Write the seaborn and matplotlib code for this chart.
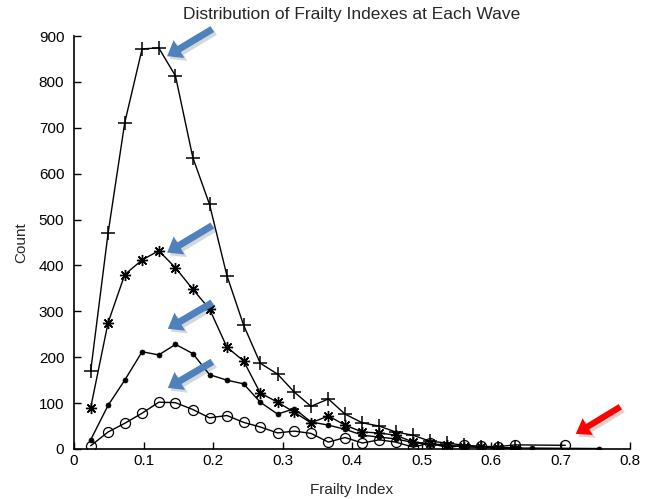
import numpy as np
import pandas as pd
import matplotlib
matplotlib.use("Agg")
import matplotlib.pyplot as plt
import matplotlib.patheffects as pe
import seaborn as sns

# Frailty index bin centres
frailty_index = [0.024, 0.049, 0.073, 0.098, 0.122, 0.146, 0.171, 0.195, 0.220, 0.244,
                 0.268, 0.293, 0.317, 0.341, 0.366, 0.390, 0.415, 0.439, 0.463, 0.488,
                 0.512, 0.537, 0.561, 0.585, 0.610, 0.634, 0.659, 0.683, 0.707, 0.732,
                 0.756]

# Counts per wave (None = empty bin, not plotted)
wave1_counts = [170, 470, 711, 872, 874, 813, 635, 533, 378, 270,
                187, 163, 124, 93, 109, 76, 57, 50, 37, 30,
                17, 13, 8, 5, 3, 2, None, None, None, None, None]
wave2_counts = [90, 275, 380, 412, 432, 395, 348, 305, 222, 192,
                122, 102, 80, 57, 72, 52, 37, 35, 30, 15,
                12, 8, 5, 4, 2, 1, None, None, None, None, None]
wave3_counts = [20, 95, 150, 212, 205, 228, 208, 162, 150, 142,
                102, 76, 88, 59, 52, 43, 30, 26, 22, 14,
                10, 7, 5, 4, 3, 2, 2, None, None, None, 1]
wave4_counts = [7, 37, 56, 78, 102, 101, 86, 68, 73, 58,
                48, 35, 39, 34, 15, 25, 13, 20, 15, 4,
                13, 3, 8, 6, 5, 9, None, None, 8, None, None]

x_ticks = [0, 0.1, 0.2, 0.3, 0.4, 0.5, 0.6, 0.7, 0.8]
x_tick_labels = ["0", "0.1", "0.2", "0.3", "0.4", "0.5", "0.6", "0.7", "0.8"]
y_ticks = [0, 100, 200, 300, 400, 500, 600, 700, 800, 900]

# Callout arrows: (tip, tail) in data coordinates
blue_arrows = [((0.134, 856), (0.199, 915)),
               ((0.134, 428), (0.199, 487)),
               ((0.135, 262), (0.199, 319)),
               ((0.135, 133), (0.199, 190))]
red_arrow = ((0.722, 33), (0.786, 92))

sns.set_style("ticks")
plt.rcParams["font.family"] = ["Liberation Sans", "DejaVu Sans"]

fig = plt.figure(figsize=(6.47, 4.99), dpi=100)
ax = fig.add_axes([74 / 647, 50 / 499, 556 / 647, 413 / 499])

series = [
    (wave1_counts, dict(marker="+", markersize=9.5, markeredgewidth=1.1)),
    (wave2_counts, dict(marker=(8, 2, 0), markersize=8, markeredgewidth=1.0)),
    (wave3_counts, dict(marker="o", markersize=3.6, markeredgewidth=0.5,
                        markerfacecolor="black")),
    (wave4_counts, dict(marker="o", markersize=7.2, markeredgewidth=0.9,
                        markerfacecolor="none")),
]

for counts, style in series:
    df = pd.DataFrame({"fi": frailty_index, "count": counts}).dropna()
    sns.lineplot(data=df, x="fi", y="count", ax=ax, color="black",
                 linewidth=1.0, markeredgecolor="black", **style)

ax.set_xlim(0, 0.8)
ax.set_ylim(0, 900)
ax.set_xticks(x_ticks)
ax.set_xticklabels(x_tick_labels)
ax.set_yticks(y_ticks)
ax.tick_params(direction="in", length=5, width=1, labelsize=11, colors="black")
ax.tick_params(axis="y", pad=7)
for side in ("top", "right"):
    ax.spines[side].set_visible(False)
for side in ("left", "bottom"):
    ax.spines[side].set_linewidth(1.2)
    ax.spines[side].set_color("black")

ax.set_xlabel("Frailty Index", fontsize=11, labelpad=11)
ax.set_ylabel("Count", fontsize=11, labelpad=7.5)
ax.set_title("Distribution of Frailty Indexes at Each Wave", fontsize=12.5, pad=12)

shadow = [pe.SimplePatchShadow(offset=(2, -2), alpha=0.18), pe.Normal()]
for tip, tail in blue_arrows:
    ax.annotate("", xy=tip, xytext=tail, annotation_clip=False,
                arrowprops=dict(arrowstyle="simple,head_length=1.0,head_width=1.5,tail_width=0.5",
                                color="#4f81bd", lw=0, mutation_scale=10,
                                shrinkA=0, shrinkB=0, path_effects=shadow))
ax.annotate("", xy=red_arrow[0], xytext=red_arrow[1], annotation_clip=False,
            arrowprops=dict(arrowstyle="simple,head_length=1.0,head_width=1.4,tail_width=0.45",
                            color="#ff0000", lw=0, mutation_scale=10,
                            shrinkA=0, shrinkB=0, path_effects=shadow))

fig.savefig("out.png", dpi=100, facecolor="white")
